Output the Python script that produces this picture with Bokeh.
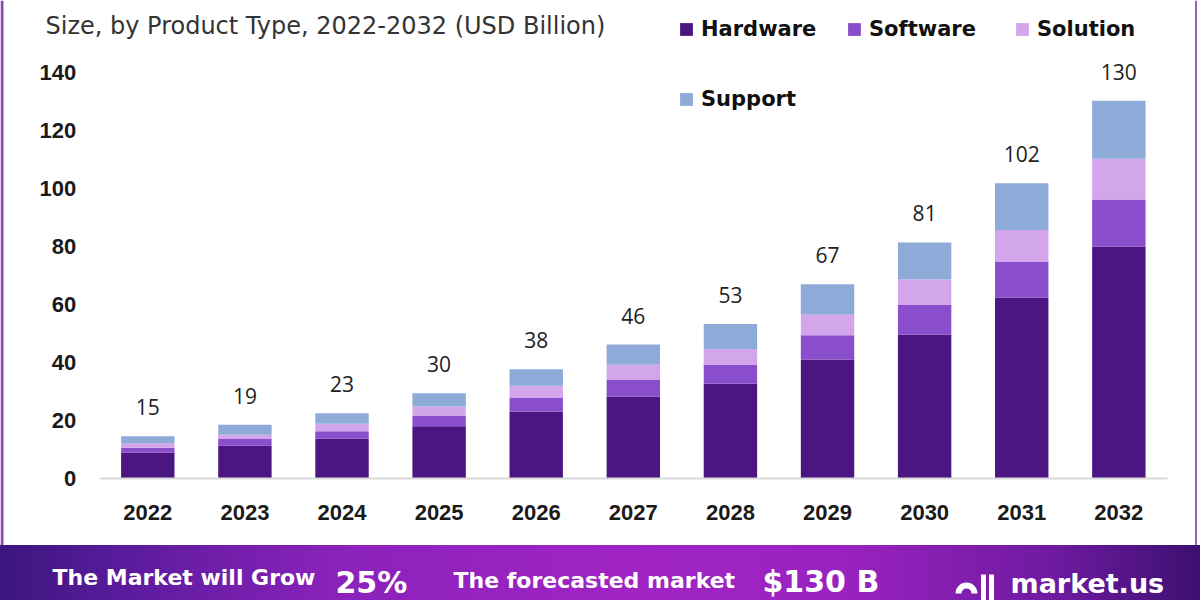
from bokeh.plotting import figure
from bokeh.models import (ColumnDataSource, FixedTicker, Range1d, Label, Legend, LegendItem, Span)
from bokeh.layouts import column
from bokeh.embed import file_html
from bokeh.resources import INLINE
from bokeh.core.properties import value

# ---------------- data ----------------
years = ["2022", "2023", "2024", "2025", "2026", "2027", "2028", "2029", "2030", "2031", "2032"]
hardware = [9.0, 11.3, 13.7, 18.0, 23.1, 28.3, 32.7, 41.0, 49.7, 62.3, 80.0]
software = [1.6, 2.3, 2.6, 3.7, 4.7, 5.7, 6.4, 8.4, 10.1, 12.5, 16.2]
solution = [1.6, 1.5, 2.6, 3.1, 4.2, 5.2, 5.6, 7.1, 8.8, 10.9, 14.1]
support = [2.4, 3.4, 3.6, 4.6, 5.7, 7.0, 8.6, 10.5, 12.8, 16.1, 20.0]
total_labels = ["15", "19", "23", "30", "38", "46", "53", "67", "81", "102", "130"]
series = ["Hardware", "Software", "Solution", "Support"]
colors = ["#4c1682", "#8a4dcb", "#d3a6ec", "#8eaad9"]
y_ticks = [0, 20, 40, 60, 80, 100, 120, 140]
title_text = "Size, by Product Type, 2022-2032 (USD Billion)"
banner_left = "The Market will Grow"
banner_cagr = "25%"
banner_mid = "The forecasted market"
banner_value = "$130 B"
brand = "market.us"

idx = list(range(len(years)))
tops = [a + b + c + d for a, b, c, d in zip(hardware, software, solution, support)]
source = ColumnDataSource(dict(idx=idx, Hardware=hardware, Software=software,
                               Solution=solution, Support=support,
                               top=tops, label=total_labels))

AXIS_FONT = "Liberation Sans"
TEXT_FONT = "Open Sans"
BOLD_FONT = "DejaVu Sans"

W, H_MAIN, H_BAN = 1200, 545, 55

p = figure(x_range=Range1d(-1.517, 10.841), y_range=Range1d(-23.10, 164.83),
           width=W, height=H_MAIN, output_backend="svg", toolbar_location=None,
           min_border=0)

rs = p.vbar_stack(series, x="idx", width=0.55, fill_color=colors, line_color=None,
                  source=source)

p.text(x="idx", y="top", text="label", y_offset=-29, text_align="center",
       text_baseline="middle", text_font=value(TEXT_FONT), text_font_size="21px",
       text_color="#222222", source=source)

# axes (drawn inside the frame at fixed locations)
p.yaxis.fixed_location = -0.5
p.yaxis.ticker = FixedTicker(ticks=y_ticks)
p.yaxis.axis_line_color = None
p.yaxis.major_tick_line_color = None
p.yaxis.minor_tick_line_color = None
p.yaxis.major_label_standoff = 17

p.xaxis.fixed_location = 0
p.xaxis.bounds = (-0.5, len(years) - 0.5)
p.xaxis.ticker = FixedTicker(ticks=idx)
p.xaxis.major_label_overrides = {i: y for i, y in zip(idx, years)}
p.xaxis.axis_line_color = "#d9d9d9"
p.xaxis.axis_line_width = 2
p.xaxis.major_tick_line_color = None
p.xaxis.minor_tick_line_color = None
p.xaxis.major_label_standoff = 20
for ax in (p.xaxis, p.yaxis):
    ax.major_label_text_font = AXIS_FONT
    ax.major_label_text_font_size = "22px"
    ax.major_label_text_font_style = "bold"
    ax.major_label_text_color = "#1a1a1a"
p.xgrid.visible = False
p.ygrid.visible = False
p.outline_line_color = None

# side borders
p.add_layout(Span(location=1.5, location_units="screen", dimension="height",
                  line_color="#8a49b8", line_width=3))
p.add_layout(Span(location=1195.5, location_units="screen", dimension="height",
                  line_color="#9a5cc4", line_width=2))

# title
p.add_layout(Label(x=45, y=H_MAIN - 25, x_units="screen", y_units="screen", text=title_text,
                   text_font=BOLD_FONT, text_font_size="24px", text_color="#333333",
                   text_baseline="alphabetic", text_align="left"))

# legends
def make_legend(items, loc):
    return Legend(items=items, location=loc, orientation="horizontal",
                  label_width=130, spacing=15, glyph_width=16, glyph_height=16,
                  label_standoff=7, padding=0, margin=0, border_line_color=None,
                  background_fill_alpha=0, label_height=20,
                  label_text_font=BOLD_FONT, label_text_font_size="21px",
                  label_text_font_style="bold", label_text_color="#111111")

items = [LegendItem(label=s, renderers=[r]) for s, r in zip(series, rs)]
p.add_layout(make_legend(items[:3], (678, H_MAIN - 28 - 12.5)))
p.add_layout(make_legend(items[3:], (678, H_MAIN - 98 - 12.5)))

# ---------------- banner ----------------
b = figure(width=W, height=H_BAN, x_range=Range1d(0, W), y_range=Range1d(-600, -545),
           output_backend="svg", toolbar_location=None, min_border=0,
           x_axis_type=None, y_axis_type=None)
b.grid.visible = False
b.outline_line_color = None
b.background_fill_color = None
b.border_fill_color = None
b.styles = {"background": "linear-gradient(90deg, #3a167e 0%, #5a1b9c 10%, #8a22ba 28%, "
                          "#a024c4 52%, #9a22c0 70%, #6e1aa0 88%, #3c1070 100%)"}

def btext(x, y, t, size, baseline="middle", style="bold"):
    b.add_layout(Label(x=x, y=y, text=t, text_font=BOLD_FONT, text_font_size=size,
                       text_font_style=style, text_color="white",
                       text_baseline=baseline, text_align="left"))

btext(52, -577, banner_left, "22px")
btext(335, -582, banner_cagr, "30px")
btext(453, -580, banner_mid, "22px")
btext(762, -581, banner_value, "30px")
btext(1010, -583, brand, "27px")

# logo icon
b.annular_wedge(x=[966], y=[-593], inner_radius=5, outer_radius=11,
                start_angle=0, end_angle=3.1416, fill_color="white", line_color=None)
b.vbar(x=[983, 991], bottom=-600, top=-574, width=5, fill_color="white", line_color=None)

layout = column(p, b, spacing=0)
open("out.html", "w").write(file_html(layout, INLINE))
